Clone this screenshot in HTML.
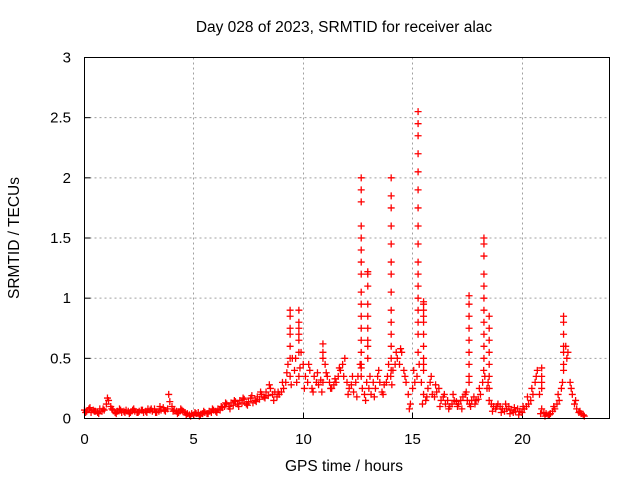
<!DOCTYPE html>
<html><head><meta charset="utf-8"><style>
html,body{margin:0;padding:0;background:#fff;}
svg{display:block;font-family:"Liberation Sans",sans-serif;}
</style></head><body>
<svg id="chart" width="640" height="480">
<text x="344" y="32" text-anchor="middle" font-size="15.5">Day 028 of 2023, SRMTID for receiver alac</text>
<text x="344" y="471" text-anchor="middle" font-size="15.5">GPS time / hours</text>
<text transform="translate(19,238) rotate(-90)" text-anchor="middle" font-size="15.5">SRMTID / TECUs</text>
<g id="grid"></g><g id="ticks"></g><g id="marks"></g>
<rect x="84.5" y="57.5" width="525" height="361" fill="none" stroke="#000" stroke-width="1"/>
</svg>
<script>
const xTicks=[0,5,10,15,20];
const yTicks=[0,0.5,1,1.5,2,2.5,3];
const yTickLabels=["0","0.5","1","1.5","2","2.5","3"];
const baseStart=0, baseStep=0.1;
const baseValues=[
0.07,0.06,0.08,0.05,0.07,0.06,0.05,0.08,0.06,0.07,
0.12,0.15,0.1,0.07,0.05,0.06,0.08,0.05,0.06,0.07,
0.06,0.05,0.07,0.06,0.05,0.06,0.07,0.05,0.06,0.08,
0.07,0.06,0.08,0.05,0.06,0.07,0.09,0.06,0.08,0.14,
0.1,0.07,0.06,0.05,0.08,0.06,0.05,0.04,0.03,0.04,
0.03,0.04,0.05,0.03,0.04,0.05,0.04,0.06,0.05,0.07,
0.06,0.08,0.07,0.09,0.1,0.12,0.1,0.13,0.11,0.14,
0.12,0.15,0.13,0.16,0.12,0.14,0.17,0.13,0.15,0.18,
0.16,0.2,0.18,0.22,0.19,0.25,0.2,0.22,0.18,0.2,
0.22,0.25,0.3,0.45,0.35,0.5,0.4,0.3,0.35,0.55,
0.45,0.35,0.3,0.4,0.25,0.35,0.3,0.28,0.32,0.3,
0.45,0.35,0.3,0.25,0.28,0.3,0.35,0.4,0.45,0.5,
0.3,0.25,0.28,0.22,0.3,0.35,0.45,0.25,0.2,0.3,
0.25,0.2,0.3,0.25,0.35,0.3,0.22,0.28,0.3,0.45,
0.35,0.4,0.45,0.5,0.45,0.55,0.4,0.3,0.2,0.12,
0.25,0.3,0.35,0.45,0.3,0.2,0.15,0.25,0.3,0.2,
0.18,0.22,0.25,0.15,0.18,0.12,0.15,0.1,0.12,0.15,
0.14,0.12,0.15,0.18,0.2,0.15,0.12,0.15,0.18,0.15,
0.16,0.2,0.3,0.35,0.25,0.15,0.12,0.1,0.08,0.12,
0.1,0.08,0.06,0.08,0.1,0.07,0.05,0.06,0.08,0.06,
0.05,0.08,0.1,0.12,0.15,0.2,0.3,0.4,0.2,0.08,
0.05,0.04,0.03,0.04,0.06,0.08,0.12,0.15,0.25,0.4,
0.6,0.55,0.3,0.2,0.12,0.08,0.05,0.04,0.03];
const scatterStart=0.05, scatterStep=0.2;
const scatterValues=[
0.05,0.09,0.06,0.04,0.08,0.17,0.08,0.04,0.07,0.05,
0.04,0.08,0.05,0.07,0.05,0.08,0.05,0.1,0.07,0.2,
0.06,0.04,0.07,0.03,0.02,0.05,0.02,0.06,0.04,0.08,
0.05,0.1,0.13,0.08,0.15,0.1,0.17,0.11,0.19,0.14,
0.22,0.17,0.28,0.15,0.22,0.3,0.38,0.28,0.5,0.42,
0.25,0.45,0.22,0.38,0.22,0.38,0.25,0.33,0.42,0.35,
0.2,0.35,0.18,0.42,0.15,0.35,0.18,0.4,0.2,0.35,
0.28,0.55,0.58,0.35,0.08,0.4,0.55,0.12,0.18,0.35,
0.28,0.1,0.2,0.08,0.2,0.1,0.08,0.22,0.1,0.12,
0.25,0.4,0.3,0.06,0.1,0.05,0.12,0.04,0.09,0.03,
0.1,0.18,0.25,0.35,0.04,0.02,0.03,0.1,0.2,0.3,
0.5,0.25,0.15,0.06,0.02];
const spikeTimes=[9.4,9.8,10.9,12.65,12.95,14.02,15.25,15.5,17.58,18.26,18.5,20.9,21.9];
const spikeValues=[
[0.9,0.85,0.75,0.7,0.6,0.5],
[0.9,0.8,0.75,0.7,0.65,0.55],
[0.62,0.55,0.5],
[2.0,1.9,1.8,1.6,1.5,1.4,1.3,1.2,1.05,0.95,0.85,0.75,0.65,0.55,0.45,0.35],
[1.22,1.2,1.1,0.95,0.85,0.75,0.65,0.6,0.5],
[2.0,1.85,1.75,1.6,1.45,1.3,1.2,1.05,0.9,0.8,0.7,0.6,0.5,0.4],
[2.55,2.45,2.35,2.2,2.05,1.9,1.75,1.6,1.45,1.3,1.2,1.1,1.0,0.9,0.8,0.7],
[0.97,0.95,0.9,0.85,0.8,0.7,0.6,0.5,0.45,0.4],
[1.02,0.95,0.85,0.75,0.65,0.55,0.45,0.35,0.3],
[1.5,1.45,1.35,1.2,1.1,1.0,0.9,0.8,0.7,0.6,0.5],
[0.85,0.75,0.65,0.55,0.45,0.35,0.25],
[0.42,0.35,0.3,0.25],
[0.85,0.8,0.7,0.6,0.55,0.45]];
const NS="http://www.w3.org/2000/svg";
const X0=84.5,X1=609.5,Y0=418.5,Y1=57.5,XMAX=24,YMAX=3;
function xs(t){return X0+(X1-X0)*t/XMAX;}
function ys(v){return Y0-(Y0-Y1)*v/YMAX;}
function mk(tag,attrs,parent){const e=document.createElementNS(NS,tag);for(const k in attrs)e.setAttribute(k,attrs[k]);parent.appendChild(e);return e;}
const grid=document.getElementById('grid'),ticks=document.getElementById('ticks'),marks=document.getElementById('marks');
xTicks.forEach(t=>{const x=Math.round(xs(t)-0.5)+0.5;
 if(t>0){const g=mk('line',{x1:x,x2:x,y1:Y1,y2:Y0,stroke:'#a0a0a0','stroke-dasharray':'2,3'},grid);
 
 }
 const tk=mk('line',{x1:x,x2:x,y1:Y0,y2:Y0-6,stroke:'#000'},ticks);
 
 
 const tl=mk('text',{x:x,y:444,'text-anchor':'middle','font-size':15},ticks);tl.textContent=String(t);
 
 });
yTicks.forEach((v,i)=>{const y=ys(v);
 if(v>0&&v<3){const g=mk('line',{x1:X0,x2:X1,y1:y,y2:y,stroke:'#a0a0a0','stroke-dasharray':'2,3'},grid);
 
 }
 const tk=mk('line',{x1:X0,x2:X0+6,y1:y,y2:y,stroke:'#000'},ticks);
 
 
 const tl=mk('text',{x:71,y:y+5,'text-anchor':'end','font-size':15},ticks);tl.textContent=yTickLabels[i];
 
 });
function plus(t,v,name){const x=xs(t),y=ys(v);
 const p=mk('path',{d:`M${x-3.5},${y}h7M${x},${y-3.5}v7`,stroke:'#ff0000','stroke-width':1.3,fill:'none'},marks);
 
 }
baseValues.forEach((v,i)=>plus(baseStart+i*baseStep,v,'baseline-point'));
scatterValues.forEach((v,i)=>plus(scatterStart+i*scatterStep,v,'scatter-point'));
spikeTimes.forEach((t,i)=>spikeValues[i].forEach(v=>plus(t,v,'spike-point')));
</script>
</body></html>
